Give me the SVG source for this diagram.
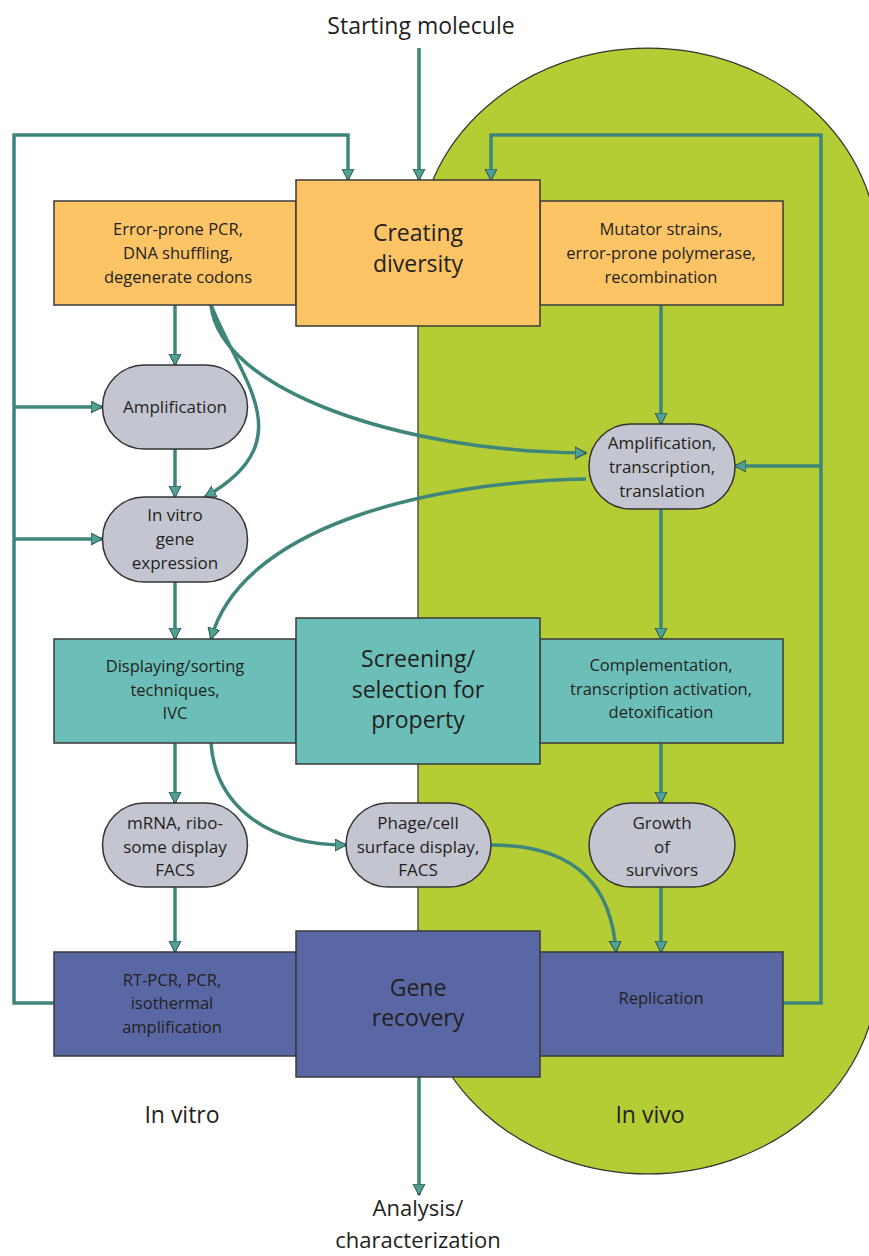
<svg xmlns="http://www.w3.org/2000/svg" width="869" height="1256" viewBox="0 0 869 1256">
<style>
text{font-family:"Open Sans","Noto Sans","Liberation Sans",sans-serif;fill:#231f20;text-anchor:middle}
.big{font-size:23px}
.bt{font-size:22px}
.sm{font-size:16.5px}
.pt{font-size:17px}
.box{stroke:#3a3a3a;stroke-width:1.5}
.or{fill:#fdc466}
.te{fill:#6cbfb8}
.bl{fill:#5a67a5}
.pill{fill:#c3c5d1;stroke:#333;stroke-width:1.5}
.cn{fill:none;stroke:#3f857b;stroke-width:3.5}
.ar{marker-end:url(#ah)}
</style>
<defs>
<marker id="ah" markerUnits="userSpaceOnUse" markerWidth="14" markerHeight="14" refX="11" refY="6.5" orient="auto" viewBox="0 0 14 14">
<path d="M0,0.5 L11.5,6.5 L0,12.5 Z" fill="#4fa095" stroke="#2c4f4b" stroke-width="1"/>
</marker>
</defs>
<rect width="869" height="1256" fill="#ffffff"/>
<g id="invivo-region">
<path d="M418,252 A230,204 0 0 1 878,252 L878,970 A230,204 0 0 1 418,970 Z" fill="#b4cd34" stroke="#333" stroke-width="1.2"/>
</g>
<g id="connectors">
<path class="cn ar" d="M419,48 L419,180"/>
<path class="cn ar" d="M54,1003 L14,1003 L14,135 L348,135 L348,180"/>
<path class="cn ar" d="M14,407 L102,407"/>
<path class="cn ar" d="M14,539 L102,539"/>
<path class="cn ar" d="M782,1003 L821,1003 L821,135 L491,135 L491,180"/>
<path class="cn ar" d="M821,466 L735,466"/>
<path class="cn ar" d="M175,305 L175,365"/>
<path class="cn ar" d="M211,305 C220,390 400,452 586,453"/>
<path class="cn ar" d="M211,305 C240,380 305,440 205,497"/>
<path class="cn ar" d="M175,449 L175,497"/>
<path class="cn ar" d="M175,582 L175,639"/>
<path class="cn ar" d="M586,479 C420,482 240,530 211,639"/>
<path class="cn ar" d="M661,305 L661,424"/>
<path class="cn ar" d="M661,509 L661,639"/>
<path class="cn ar" d="M175,743 L175,803"/>
<path class="cn ar" d="M211,743 C215,800 260,845 346,845"/>
<path class="cn ar" d="M661,743 L661,803"/>
<path class="cn ar" d="M661,887 L661,952"/>
<path class="cn ar" d="M491,845 C580,845 612,890 616,952"/>
<path class="cn ar" d="M175,887 L175,952"/>
<path class="cn ar" d="M419,1077 L419,1195"/>
</g>
<g id="start-label"><text class="big" x="421" y="34">Starting molecule</text></g>
<g id="diversity-left">
<rect class="box or" x="54" y="201" width="242" height="104"/>
<text class="sm" x="178" y="235">Error-prone PCR,</text>
<text class="sm" x="178" y="259">DNA shuffling,</text>
<text class="sm" x="178" y="283">degenerate codons</text>
</g>
<g id="diversity-right">
<rect class="box or" x="540" y="201" width="243" height="104"/>
<text class="sm" x="661" y="235">Mutator strains,</text>
<text class="sm" x="661" y="259">error-prone polymerase,</text>
<text class="sm" x="661" y="283">recombination</text>
</g>
<g id="creating-diversity">
<rect class="box or" x="296" y="180" width="244" height="146"/>
<text class="big" x="418" y="241">Creating</text>
<text class="big" x="418" y="272">diversity</text>
</g>
<g id="amplification">
<rect class="pill" x="102.5" y="365" width="145" height="84" rx="42" ry="42"/>
<text class="pt" x="175" y="413">Amplification</text>
</g>
<g id="in-vitro-expression">
<rect class="pill" x="102.5" y="497" width="145" height="85" rx="42" ry="42"/>
<text class="pt" x="175" y="521">In vitro</text>
<text class="pt" x="175" y="545">gene</text>
<text class="pt" x="175" y="569">expression</text>
</g>
<g id="amp-trans">
<rect class="pill" x="589" y="424" width="146" height="85" rx="42" ry="42"/>
<text class="pt" x="662" y="449">Amplification,</text>
<text class="pt" x="662" y="473">transcription,</text>
<text class="pt" x="662" y="497">translation</text>
</g>
<g id="screening-left">
<rect class="box te" x="54" y="639" width="242" height="104"/>
<text class="sm" x="175" y="672">Displaying/sorting</text>
<text class="sm" x="175" y="696">techniques,</text>
<text class="sm" x="175" y="719">IVC</text>
</g>
<g id="screening-right">
<rect class="box te" x="540" y="639" width="243" height="104"/>
<text class="sm" x="661" y="671">Complementation,</text>
<text class="sm" x="661" y="695">transcription activation,</text>
<text class="sm" x="661" y="718">detoxification</text>
</g>
<g id="screening">
<rect class="box te" x="296" y="618" width="244" height="146"/>
<text class="big" x="418" y="667">Screening/</text>
<text class="big" x="418" y="698">selection for</text>
<text class="big" x="418" y="728">property</text>
</g>
<g id="mrna-display">
<rect class="pill" x="102.5" y="803" width="145" height="84" rx="42" ry="42"/>
<text class="pt" x="175" y="829">mRNA, ribo-</text>
<text class="pt" x="175" y="853">some display</text>
<text class="pt" x="175" y="876">FACS</text>
</g>
<g id="phage-display">
<rect class="pill" x="346" y="803" width="145" height="84" rx="42" ry="42"/>
<text class="pt" x="418" y="829">Phage/cell</text>
<text class="pt" x="418" y="853">surface display,</text>
<text class="pt" x="418" y="876">FACS</text>
</g>
<g id="growth">
<rect class="pill" x="589" y="803" width="146" height="84" rx="42" ry="42"/>
<text class="pt" x="662" y="829">Growth</text>
<text class="pt" x="662" y="853">of</text>
<text class="pt" x="662" y="876">survivors</text>
</g>
<g id="recovery-left">
<rect class="box bl" x="54" y="952" width="242" height="104"/>
<text class="sm" x="172" y="986">RT-PCR, PCR,</text>
<text class="sm" x="172" y="1009">isothermal</text>
<text class="sm" x="172" y="1033">amplification</text>
</g>
<g id="recovery-right">
<rect class="box bl" x="540" y="952" width="243" height="104"/>
<text class="sm" x="661" y="1004">Replication</text>
</g>
<g id="gene-recovery">
<rect class="box bl" x="296" y="931" width="244" height="146"/>
<text class="big" x="418" y="996">Gene</text>
<text class="big" x="418" y="1026">recovery</text>
</g>
<g id="labels">
<text class="big" x="182" y="1123">In vitro</text>
<text class="big" x="650" y="1123">In vivo</text>
<text class="bt" x="418" y="1216">Analysis/</text>
<text class="bt" x="418" y="1248">characterization</text>
</g>
</svg>
